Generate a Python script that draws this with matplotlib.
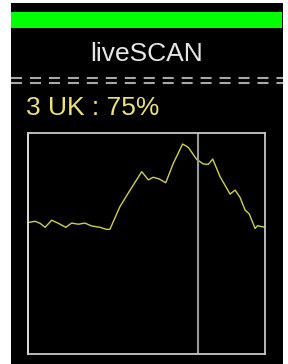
import matplotlib
matplotlib.use('Agg')
import matplotlib.pyplot as plt
from matplotlib.patches import Rectangle
from matplotlib.lines import Line2D

# scan trace, position (% of width) and level (% of height)
scan_x = [0, 3.2, 5.3, 7.4, 10.2, 13.0, 16.1, 18.6, 21.4, 24.2, 27.0, 30.5,
          33.1, 34.7, 38.9, 43.2, 48.1, 50.9, 53.0, 55.5, 58.2, 61.4, 65.3,
          67.7, 71.2, 74.0, 76.1, 78.0, 81.1, 85.3, 87.4, 89.5, 91.6, 93.4,
          95.8, 96.8, 100]
scan_y = [59.3, 59.9, 59.0, 57.2, 60.4, 59.0, 57.2, 59.1, 58.6, 59.1, 57.8,
          57.2, 56.3, 56.3, 66.5, 74.0, 82.3, 78.6, 79.8, 79.0, 77.3, 86.1,
          94.8, 93.3, 87.9, 85.8, 85.6, 88.0, 80.0, 72.2, 74.0, 70.7, 65.0,
          63.2, 56.7, 57.9, 57.2]
cursor_x = 71.8
title = 'liveSCAN'
channel = '3 UK : 75%'

W, H = 288, 364
fig = plt.figure(figsize=(W / 100, H / 100), dpi=100)
fig.patch.set_facecolor('white')

def fx(px):
    return px / W

def fy(py):
    return 1 - py / H

# black screen and green status bar
fig.patches.append(Rectangle((fx(11), 0), fx(272), fy(3), transform=fig.transFigure,
                             facecolor='black', edgecolor='none', zorder=-2))
fig.patches.append(Rectangle((fx(11), fy(28)), fx(271), 16 / H, transform=fig.transFigure,
                             facecolor='#00ff00', edgecolor='none', zorder=-1))

fig.text(fx(147), fy(54), title, color='#e6e6e6', fontsize=19,
         family='Liberation Sans', ha='center', va='center')

# double dashed separator
for yy in (77.5, 82.5):
    fig.lines.append(Line2D([fx(11), fx(283)], [fy(yy), fy(yy)], transform=fig.transFigure,
                            color='#a8a8a8', linewidth=1.5, linestyle=(0, (5.3, 3.8))))

fig.text(fx(26), fy(108), channel, color='#ece27a', fontsize=19,
         family='Liberation Sans', ha='left', va='center')

ax = fig.add_axes([fx(27.5), fy(354), 237.5 / W, 221.5 / H])
ax.set_zorder(5)
ax.set_facecolor('black')
ax.plot(scan_x, scan_y, color='#cfcf55', linewidth=1.0)
ax.axvline(cursor_x, color='#9a9a9a', linewidth=1.5)
ax.set_xlim(0, 100)
ax.set_ylim(0, 100)
ax.set_xticks([])
ax.set_yticks([])
for side in ax.spines.values():
    side.set_color('#c8c8c8')
    side.set_linewidth(1.3)
ax.spines['left'].set_color('#f0f0f0')

fig.savefig('out.png', dpi=100, facecolor=fig.get_facecolor())
